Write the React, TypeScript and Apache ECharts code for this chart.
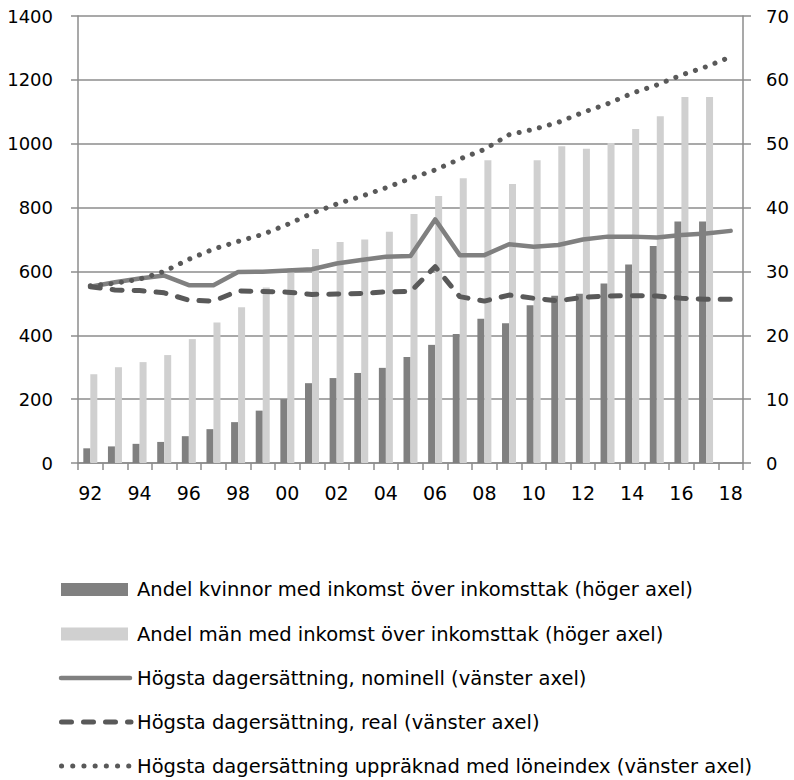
import React, { useEffect, useRef } from "react";
import * as echarts from "echarts";

const years = ["92","93","94","95","96","97","98","99","00","01","02","03","04","05","06","07","08","09","10","11","12","13","14","15","16","17","18"];

// Right axis (percent), 1992-2017
const andelKvinnor = [2.3, 2.6, 3.0, 3.3, 4.2, 5.3, 6.4, 8.2, 10.0, 12.5, 13.3, 14.1, 14.9, 16.6, 18.5, 20.2, 22.6, 21.9, 24.7, 26.2, 26.5, 28.1, 31.1, 34.0, 37.8, 37.8];
const andelMan = [13.9, 15.0, 15.8, 16.9, 19.4, 22.0, 24.4, 27.5, 30.5, 33.5, 34.6, 35.0, 36.2, 39.0, 41.8, 44.6, 47.4, 43.7, 47.4, 49.6, 49.2, 50.1, 52.3, 54.3, 57.3, 57.3];

// Left axis (kr), 1992-2018
const nominell = [552, 566, 578, 587, 557, 557, 598, 599, 603, 607, 625, 636, 646, 648, 763, 651, 651, 685, 677, 683, 700, 709, 709, 706, 714, 719, 727];
const real = [552, 542, 540, 533, 510, 507, 539, 537, 535, 528, 529, 531, 536, 537, 615, 521, 507, 526, 516, 508, 519, 523, 524, 523, 516, 513, 513];
const loneindex = [555, 563, 576, 600, 638, 670, 694, 716, 747, 782, 811, 835, 862, 891, 918, 952, 982, 1028, 1045, 1067, 1098, 1125, 1158, 1184, 1215, 1241, 1272];

const names = [
  "Andel kvinnor med inkomst över inkomsttak (höger axel)",
  "Andel män med inkomst över inkomsttak (höger axel)",
  "Högsta dagersättning, nominell (vänster axel)",
  "Högsta dagersättning, real (vänster axel)",
  "Högsta dagersättning uppräknad med löneindex (vänster axel)",
];

const FONT = "DejaVu Sans";
const GRID = "#8c8c8c";
const DARK = "#808080";
const LIGHT = "#d0d0d0";
const DEEP = "#595959";

const realDash = [10, 12];
const dotDash = [0.1, 11.1];

export default function App() {
  const ref = useRef<HTMLDivElement>(null);
  useEffect(() => {
    if (!ref.current) return;
    const chart = echarts.init(ref.current, undefined, { renderer: "svg" });

    const rowY = [589.5, 634, 678, 722, 766];
    const textX = 137;
    const legendTexts = names.map((n, i) => ({
      type: "text",
      x: textX,
      y: rowY[i],
      style: { text: n, fontFamily: FONT, fontSize: 19.5, fill: "#000", verticalAlign: "middle", align: "left" },
    }));
    const icons = [
      { type: "rect", shape: { x: 61, y: rowY[0] - 6.5, width: 67, height: 13 }, style: { fill: DARK } },
      { type: "rect", shape: { x: 61, y: rowY[1] - 6.5, width: 67, height: 13 }, style: { fill: LIGHT } },
      { type: "line", shape: { x1: 61, y1: rowY[2], x2: 130, y2: rowY[2] }, style: { stroke: DARK, lineWidth: 4.5, lineCap: "round" } },
      { type: "line", shape: { x1: 61.5, y1: rowY[3], x2: 131, y2: rowY[3] }, style: { stroke: DEEP, lineWidth: 5, lineCap: "round", lineDash: realDash } },
      { type: "line", shape: { x1: 61.5, y1: rowY[4], x2: 131, y2: rowY[4] }, style: { stroke: DEEP, lineWidth: 5, lineCap: "round", lineDash: dotDash } },
    ];

    chart.setOption({
      animation: false,
      textStyle: { fontFamily: FONT },
      grid: { left: 78, right: 51, top: 16, bottom: 317 },
      graphic: [...icons, ...legendTexts],
      xAxis: {
        type: "category",
        data: years,
        boundaryGap: true,
        axisLine: { show: true, lineStyle: { color: GRID, width: 1.5 } },
        axisTick: { show: true, interval: 0, length: 7, lineStyle: { color: GRID, width: 1.5 } },
        axisLabel: { interval: 1, margin: 20, fontSize: 19, color: "#000", fontFamily: FONT },
        splitLine: { show: false },
      },
      yAxis: [
        {
          type: "value",
          min: 0,
          max: 1400,
          interval: 200,
          position: "left",
          axisLine: { show: true, lineStyle: { color: GRID, width: 1.5 } },
          axisTick: { show: true, length: 7, lineStyle: { color: GRID, width: 1.5 } },
          axisLabel: { margin: 25, fontSize: 18, color: "#000", fontFamily: FONT, formatter: (v: number) => String(v) },
          splitLine: { show: true, lineStyle: { color: GRID, width: 1.5 } },
        },
        {
          type: "value",
          min: 0,
          max: 70,
          interval: 10,
          position: "right",
          axisLine: { show: true, lineStyle: { color: GRID, width: 1.5 } },
          axisTick: { show: true, length: 8, lineStyle: { color: GRID, width: 1.5 } },
          axisLabel: { margin: 23, fontSize: 18, color: "#000", fontFamily: FONT, formatter: (v: number) => String(v) },
          splitLine: { show: false },
        },
      ],
      series: [
        {
          name: names[0],
          type: "bar",
          yAxisIndex: 1,
          data: andelKvinnor,
          barWidth: 7,
          barGap: "0%",
          itemStyle: { color: DARK },
        },
        {
          name: names[1],
          type: "bar",
          yAxisIndex: 1,
          data: andelMan,
          barWidth: 7,
          barGap: "0%",
          itemStyle: { color: LIGHT },
        },
        {
          name: names[2],
          type: "line",
          yAxisIndex: 0,
          data: nominell,
          symbol: "none",
          lineStyle: { color: DARK, width: 4.5, cap: "round", join: "round" },
          itemStyle: { color: DARK },
        },
        {
          name: names[3],
          type: "line",
          yAxisIndex: 0,
          data: real,
          symbol: "none",
          lineStyle: { color: DEEP, width: 5, type: realDash, cap: "round", join: "round" },
          itemStyle: { color: DEEP },
        },
        {
          name: names[4],
          type: "line",
          yAxisIndex: 0,
          data: loneindex,
          symbol: "none",
          lineStyle: { color: DEEP, width: 5, type: [0.1, 10.3], cap: "round", join: "round" },
          itemStyle: { color: DEEP },
        },
      ],
    });
    return () => chart.dispose();
  }, []);
  return <div ref={ref} style={{ width: 794, height: 780, position: "absolute", left: 0, top: 0 }} />;
}
